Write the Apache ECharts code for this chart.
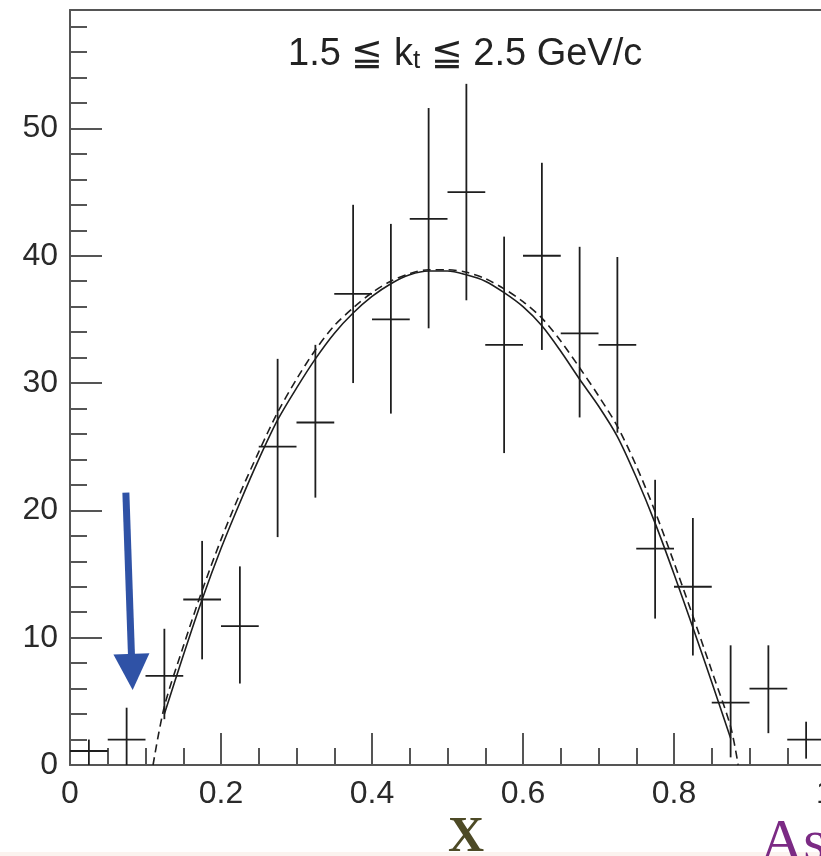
<!DOCTYPE html>
<html>
<head>
<meta charset="utf-8">
<script src="https://cdn.jsdelivr.net/npm/echarts@6/dist/echarts.min.js"></script>
<style>
  html, body { margin: 0; padding: 0; background: #ffffff; }
  #chart { width: 821px; height: 856px; }
</style>
</head>
<body>
<div id="chart"></div>
<script>
// ---- data ----
const binCenters = [0.025, 0.075, 0.125, 0.175, 0.225, 0.275, 0.325, 0.375, 0.425, 0.475, 0.525, 0.575, 0.625, 0.675, 0.725, 0.775, 0.825, 0.875, 0.925, 0.975];
const counts     = [1.1, 2.0, 7.0, 13.0, 10.9, 25.0, 26.9, 37.0, 35.0, 42.9, 45.0, 33.0, 40.0, 33.9, 33.0, 17.0, 14.0, 4.9, 6.0, 2.0];
const errLow     = [0.0, 0.0, 3.6, 8.3, 6.4, 17.9, 21.0, 30.0, 27.6, 34.3, 36.5, 24.5, 32.6, 27.3, 26.1, 11.5, 8.6, 0.6, 2.5, 0.5];
const errHigh    = [2.0, 4.5, 10.7, 17.6, 15.6, 31.9, 33.0, 44.0, 42.5, 51.6, 53.5, 41.5, 47.3, 40.7, 39.9, 22.4, 19.4, 9.4, 9.4, 3.4];
const binHalfWidth = 0.025;

const solidX = [0.125, 0.15, 0.175, 0.2, 0.225, 0.25, 0.275, 0.3, 0.325, 0.35, 0.375, 0.4, 0.425, 0.45, 0.475, 0.5, 0.525, 0.55, 0.575, 0.6, 0.625, 0.65, 0.675, 0.7, 0.725, 0.75, 0.775, 0.8, 0.825, 0.85, 0.875];
const solidY = [4.0, 8.6, 13.0, 17.0, 20.6, 24.0, 27.1, 29.6, 31.9, 33.9, 35.5, 36.8, 37.8, 38.5, 38.8, 38.8, 38.5, 38.0, 37.1, 36.0, 34.5, 32.5, 30.3, 28.2, 25.8, 22.6, 19.0, 15.0, 10.8, 6.5, 2.1];

const dashedX = [0.11, 0.125, 0.15, 0.175, 0.2, 0.225, 0.25, 0.275, 0.3, 0.325, 0.35, 0.375, 0.4, 0.425, 0.45, 0.475, 0.5, 0.525, 0.55, 0.575, 0.6, 0.625, 0.65, 0.675, 0.7, 0.725, 0.75, 0.775, 0.8, 0.825, 0.85, 0.875, 0.885];
const dashedY = [0.0, 4.6, 9.3, 13.7, 17.7, 21.3, 24.6, 27.7, 30.3, 32.6, 34.5, 35.9, 37.1, 38.0, 38.6, 38.9, 38.9, 38.7, 38.2, 37.4, 36.4, 35.1, 33.3, 31.2, 29.0, 26.6, 23.5, 19.9, 15.9, 11.7, 7.4, 3.0, 0.0];

const yMajorTicks = [0, 10, 20, 30, 40, 50];
const yMinorTicks = [2, 4, 6, 8, 12, 14, 16, 18, 22, 24, 26, 28, 32, 34, 36, 38, 42, 44, 46, 48, 52, 54, 56, 58];
const xRange = [0, 1];
const yRange = [0, 59.3];

const titleParts = ['1.5 ≦ k', 't', ' ≦ 2.5 GeV/c'];
const arrowTail = [0.074, 21.4];
const arrowTip  = [0.083, 5.9];

// ---- build ----
const errData = binCenters.map((x, i) => [x, counts[i], errLow[i], errHigh[i]]);
const solidData = solidX.map((x, i) => [x, solidY[i]]);
const dashedData = dashedX.map((x, i) => [x, dashedY[i]]);

const AXIS_COLOR = '#555';
const INK = '#1e1e1e';
const LABEL_FONT = '"Liberation Sans", Arial, Helvetica, sans-serif';

const chart = echarts.init(document.getElementById('chart'), null, { renderer: 'canvas' });

const option = {
  animation: false,
  backgroundColor: '#ffffff',
  title: {
    text: '{a|' + titleParts[0] + '}{s|' + titleParts[1] + '}{a|' + titleParts[2] + '}',
    left: 283,
    top: 25,
    textStyle: {
      fontWeight: 'normal',
      rich: {
        a: { fontFamily: LABEL_FONT, fontSize: 38, fontWeight: 'normal', color: '#222', lineHeight: 44, verticalAlign: 'bottom' },
        s: { fontFamily: LABEL_FONT, fontSize: 26, fontWeight: 'normal', color: '#222', lineHeight: 10, verticalAlign: 'bottom' }
      }
    }
  },
  grid: { left: 70, right: -4, top: 10, bottom: 91, containLabel: false, outerBoundsMode: 'none' },
  xAxis: [
    {
      type: 'value', min: xRange[0], max: xRange[1], interval: 0.2, position: 'bottom',
      axisLine: { show: true, lineStyle: { color: AXIS_COLOR, width: 2 } },
      axisTick: { show: true, inside: true, length: 32, lineStyle: { color: AXIS_COLOR, width: 2 } },
      minorTick: { show: true, splitNumber: 4, length: 17, lineStyle: { color: AXIS_COLOR, width: 2 } },
      splitLine: { show: false },
      axisLabel: { show: true, margin: 13, fontFamily: LABEL_FONT, fontSize: 32, color: '#2a2a2a',
        formatter: v => (v === 0 ? '0' : String(Math.round(v * 10) / 10)) }
    },
    {
      type: 'value', min: xRange[0], max: xRange[1], position: 'top',
      axisLine: { show: true, onZero: false, lineStyle: { color: AXIS_COLOR, width: 2 } },
      axisTick: { show: false }, axisLabel: { show: false }, splitLine: { show: false }
    }
  ],
  yAxis: [
    {
      type: 'value', min: yRange[0], max: yRange[1], position: 'left',
      axisLine: { show: true, lineStyle: { color: AXIS_COLOR, width: 2 } },
      axisTick: { show: true, inside: true, length: 32, customValues: yMajorTicks, lineStyle: { color: AXIS_COLOR, width: 2 } },
      axisLabel: { show: true, margin: 12, customValues: yMajorTicks, fontFamily: LABEL_FONT, fontSize: 32, color: '#2a2a2a' },
      splitLine: { show: false }
    },
    {
      type: 'value', min: yRange[0], max: yRange[1], position: 'left', offset: 0,
      axisLine: { show: false },
      axisTick: { show: true, inside: true, length: 17, customValues: yMinorTicks, lineStyle: { color: AXIS_COLOR, width: 2 } },
      axisLabel: { show: false, customValues: yMinorTicks },
      splitLine: { show: false }
    }
  ],
  series: [
    {
      type: 'custom',
      name: 'data',
      xAxisIndex: 0, yAxisIndex: 0,
      data: errData,
      clip: false,
      z: 3,
      renderItem: function (params, api) {
        const x = api.value(0), v = api.value(1), lo = api.value(2), hi = api.value(3);
        const pL = api.coord([x - binHalfWidth, v]);
        const pR = api.coord([x + binHalfWidth, v]);
        const pLo = api.coord([x, lo]);
        const pHi = api.coord([x, hi]);
        const st = { stroke: INK, lineWidth: 1.8 };
        return {
          type: 'group',
          children: [
            { type: 'line', shape: { x1: pL[0], y1: pL[1], x2: pR[0], y2: pR[1] }, style: st },
            { type: 'line', shape: { x1: pLo[0], y1: pLo[1], x2: pHi[0], y2: pHi[1] }, style: st }
          ]
        };
      }
    },
    {
      type: 'line', name: 'fit', xAxisIndex: 0, yAxisIndex: 0,
      data: solidData, showSymbol: false, smooth: 0.3, z: 4,
      lineStyle: { color: INK, width: 1.6, type: 'solid' }
    },
    {
      type: 'line', name: 'fit2', xAxisIndex: 0, yAxisIndex: 0,
      data: dashedData, showSymbol: false, smooth: 0.3, z: 4,
      lineStyle: { color: INK, width: 1.6, type: [8, 5] }
    }
  ]
};

chart.setOption(option);

// annotations placed through the chart's own coordinate system
const tail = chart.convertToPixel({ gridIndex: 0 }, arrowTail);
const tip = chart.convertToPixel({ gridIndex: 0 }, arrowTip);
const dx = tip[0] - tail[0], dy = tip[1] - tail[1];
const len = Math.sqrt(dx * dx + dy * dy);
const ux = dx / len, uy = dy / len;
const headLen = 36, headHalf = 18;
const base = [tip[0] - ux * headLen, tip[1] - uy * headLen];
const px = -uy, py = ux;

chart.setOption({
  graphic: [
    { type: 'line', z: 10,
      shape: { x1: tail[0], y1: tail[1], x2: base[0] + ux * 4, y2: base[1] + uy * 4 },
      style: { stroke: '#2f52a6', lineWidth: 7 } },
    { type: 'polygon', z: 10,
      shape: { points: [[tip[0], tip[1]], [base[0] + px * headHalf, base[1] + py * headHalf], [base[0] - px * headHalf, base[1] - py * headHalf]] },
      style: { fill: '#2f52a6' } },
    { type: 'rect', z: 1, shape: { x: 0, y: 852, width: 821, height: 4 }, style: { fill: '#fbf3ef' } },
    { type: 'text', z: 10, left: 448, top: 813,
      style: { text: 'X', font: 'bold 50px "Liberation Serif", "Times New Roman", serif', fill: '#4d4a26' } },
    { type: 'text', z: 10, left: 760, top: 814,
      style: { text: 'As', font: '60px "Liberation Serif", "Times New Roman", serif', fill: '#7b2a84' } }
  ]
});
</script>
</body>
</html>
